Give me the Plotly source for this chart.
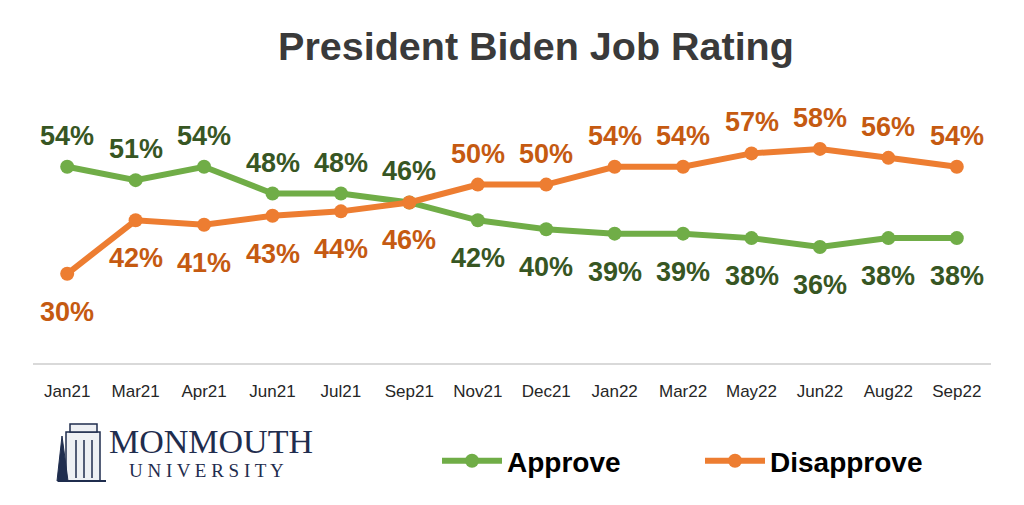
import plotly.graph_objects as go

months = ["Jan21", "Mar21", "Apr21", "Jun21", "Jul21", "Sep21", "Nov21", "Dec21",
          "Jan22", "Mar22", "May22", "Jun22", "Aug22", "Sep22"]
approve = [54, 51, 54, 48, 48, 46, 42, 40, 39, 39, 38, 36, 38, 38]
disapprove = [30, 42, 41, 43, 44, 46, 50, 50, 54, 54, 57, 58, 56, 54]
# label side for each point: 1 = above, -1 = below
approve_side = [1, 1, 1, 1, 1, 1, -1, -1, -1, -1, -1, -1, -1, -1]
disapprove_side = [-1, -1, -1, -1, -1, -1, 1, 1, 1, 1, 1, 1, 1, 1]

GREEN = "#70AD47"
GREEN_TXT = "#375623"
ORANGE = "#ED7D31"
ORANGE_TXT = "#C55A11"
NAVY = "#1F2D4E"
FONT = "Liberation Sans, Arial, sans-serif"

W, H = 1024, 505
OFF = 8  # page body offset of the figure
# target plot area in screen pixels
SX0, SX1, SY0, SY1 = 33, 991, 100, 363
ML, MT = SX0 - OFF, SY0 - OFF
MR, MB = W - (SX1 - OFF), H - (SY1 - OFF)
PW, PH = SX1 - SX0, SY1 - SY0


def px(x):
    return (x - SX0) / PW


def py(y):
    return (SY1 - y) / PH


fig = go.Figure()
fig.add_trace(go.Scatter(x=months, y=approve, mode="lines+markers", name="Approve",
                         line=dict(color=GREEN, width=6),
                         marker=dict(color=GREEN, size=14)))
fig.add_trace(go.Scatter(x=months, y=disapprove, mode="lines+markers", name="Disapprove",
                         line=dict(color=ORANGE, width=6),
                         marker=dict(color=ORANGE, size=14)))

annotations = []
for vals, sides, col in [(approve, approve_side, GREEN_TXT),
                         (disapprove, disapprove_side, ORANGE_TXT)]:
    for m, v, s in zip(months, vals, sides):
        annotations.append(dict(x=m, y=v, text=f"<b>{v}%</b>", showarrow=False,
                                yshift=31 if s > 0 else -38,
                                font=dict(family=FONT, size=27, color=col)))

# logo text
annotations.append(dict(xref="paper", yref="paper", x=px(211), y=py(441), text="MONMOUTH",
                        showarrow=False, xanchor="center", yanchor="middle",
                        font=dict(family="Liberation Serif, DejaVu Serif, serif", size=34, color=NAVY)))
annotations.append(dict(xref="paper", yref="paper", x=px(206), y=py(470), text="U N I V E R S I T Y",
                        showarrow=False, xanchor="center", yanchor="middle",
                        font=dict(family="Liberation Serif, DejaVu Serif, serif", size=19, color=NAVY)))

shapes = [
    # building
    dict(type="rect", xref="paper", yref="paper", x0=px(66), x1=px(100), y0=py(481), y1=py(432),
         fillcolor="#EEF0F4", line=dict(color=NAVY, width=1.5)),
    dict(type="rect", xref="paper", yref="paper", x0=px(70), x1=px(97), y0=py(432), y1=py(424),
         fillcolor="#EEF0F4", line=dict(color=NAVY, width=1.5)),
    dict(type="line", xref="paper", yref="paper", x0=px(58), x1=px(106), y0=py(481), y1=py(481),
         line=dict(color=NAVY, width=2)),
    dict(type="line", xref="paper", yref="paper", x0=px(76), x1=px(76), y0=py(478), y1=py(440),
         line=dict(color=NAVY, width=1.5)),
    dict(type="line", xref="paper", yref="paper", x0=px(84), x1=px(84), y0=py(478), y1=py(440),
         line=dict(color=NAVY, width=1.5)),
    dict(type="line", xref="paper", yref="paper", x0=px(92), x1=px(92), y0=py(478), y1=py(440),
         line=dict(color=NAVY, width=1.5)),
    # tree
    dict(type="path", xref="paper", yref="paper",
         path=f"M {px(57)},{py(481)} L {px(62)},{py(436)} L {px(68)},{py(481)} Z",
         fillcolor=NAVY, line=dict(color=NAVY, width=1)),
]

fig.update_layout(
    width=W, height=H,
    margin=dict(l=ML, r=MR, t=MT, b=MB, autoexpand=False),
    paper_bgcolor="white", plot_bgcolor="white",
    title=dict(text="<b>President Biden Job Rating</b>", x=(536 - OFF) / W, xref="container",
               xanchor="center", y=1 - (46 - OFF) / H, yanchor="middle",
               font=dict(family=FONT, size=39.5, color="#3A3A3A")),
    xaxis=dict(type="category", range=[-0.5, 13.5], showgrid=False, zeroline=False,
               showline=True, linecolor="#D9D9D9", linewidth=2, ticks="",
               tickfont=dict(family=FONT, size=17, color="#262626"),
               ticklabelstandoff=12, fixedrange=True, automargin=False),
    yaxis=dict(range=[10, 10 + PH / 4.46], visible=False, fixedrange=True),
    showlegend=True,
    legend=dict(orientation="h", x=px(437), y=py(461), xanchor="left", yanchor="middle",
                entrywidth=188, entrywidthmode="pixels", itemwidth=60,
                font=dict(family=FONT, size=28, color="#000000", weight="bold"),
                bgcolor="rgba(0,0,0,0)"),
    annotations=annotations,
    shapes=shapes,
)

fig.write_html("out.html")
